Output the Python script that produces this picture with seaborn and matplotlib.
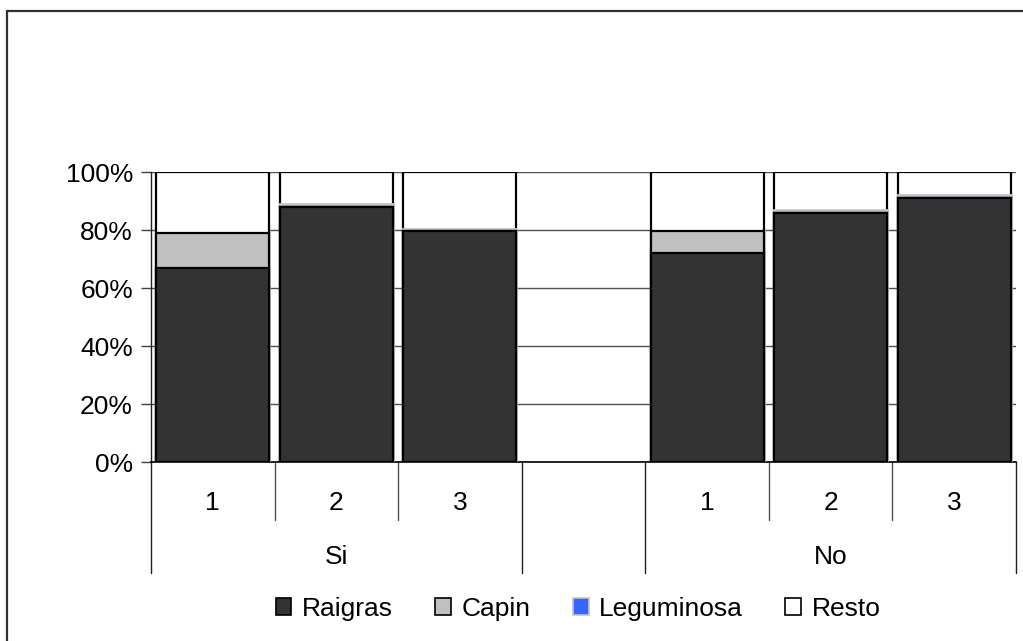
import matplotlib
matplotlib.use("Agg")
import matplotlib.pyplot as plt
import matplotlib.transforms as mtransforms
from matplotlib.patches import Patch
from matplotlib.lines import Line2D
import numpy as np
import pandas as pd
import seaborn as sns

# Composition of the pasture (%) by treatment and cut
groups = ["Si", "Si", "Si", "No", "No", "No"]
cuts = ["1", "2", "3", "1", "2", "3"]
raigras = [67.0, 88.0, 79.5, 72.0, 86.0, 91.0]
capin = [12.0, 0.0, 0.0, 7.5, 0.0, 0.0]
leguminosa = [0.0, 0.8, 0.8, 0.0, 1.0, 1.2]
resto = [21.0, 11.2, 19.7, 20.5, 13.0, 7.8]

series_names = ["Raigras", "Capin", "Leguminosa", "Resto"]
series_colors = ["#333333", "#C0C0C0", "#3366FF", "#FFFFFF"]
series_edges = ["#000000", "#000000", "#C4C4C4", "#000000"]

sns.set_theme(style="white")
plt.rcParams["font.family"] = ["Liberation Sans", "DejaVu Sans"]
plt.rcParams["text.color"] = "black"
plt.rcParams["ytick.color"] = "black"
plt.rcParams["xtick.color"] = "black"

keys = [f"{g} {c}" for g, c in zip(groups, cuts)]
order = keys[:3] + [""] + keys[3:]

df = pd.DataFrame({"key": keys, "Raigras": raigras, "Capin": capin,
                   "Leguminosa": leguminosa, "Resto": resto})
cum = df[series_names].cumsum(axis=1)

fig = plt.figure(figsize=(10.23, 6.41), dpi=100)
W, H = 1023, 641
ax = fig.add_axes([151 / W, 1 - 462 / H, (1016 - 151) / W, (462 - 172) / H])

# Stacked bars: draw cumulative totals from the top layer down
for i in reversed(range(len(series_names))):
    name = series_names[i]
    lw = 2.0 if name == "Leguminosa" else 1.6
    sns.barplot(x=df["key"], y=cum[name], order=order, ax=ax,
                color=series_colors[i], edgecolor=series_edges[i],
                linewidth=lw, width=0.915, saturation=1,
                errorbar=None, zorder=3)

ax.set_xlim(-0.5, len(order) - 0.5)
ax.set_ylim(0, 100)
ax.set_yticks(np.arange(0, 101, 20))
ax.set_yticklabels([f"{v}%" for v in range(0, 101, 20)], fontsize=19,
                   color="black")
ax.set_xticks([])
ax.set_xlabel("")
ax.set_ylabel("")
ax.yaxis.grid(True, color="#505050", linewidth=1.0, zorder=0)
ax.set_axisbelow(True)
ax.tick_params(axis="y", which="both", direction="out", length=7, width=1,
               color="#404040", pad=6, left=True)
for side in ["top", "right"]:
    ax.spines[side].set_visible(False)
ax.spines["left"].set_color("#202020")
ax.spines["left"].set_linewidth(1.0)
ax.spines["bottom"].set_color("#000000")
ax.spines["bottom"].set_linewidth(1.2)

# Two-level category axis
trans = mtransforms.blended_transform_factory(ax.transData, ax.transAxes)
short_y = -58 / 290
long_y = -111 / 290
n = len(order)
for b in np.arange(-0.5, n, 1.0):
    long = b in (-0.5, 2.5, 3.5, n - 0.5)
    ax.plot([b, b], [0, long_y if long else short_y], transform=trans,
            color="#202020" if long else "#505050", lw=1.0, clip_on=False)
for pos, lab in enumerate(order):
    if lab:
        ax.text(pos, -41 / 290, lab.split(" ")[1], transform=trans,
                ha="center", va="center", fontsize=19, color="black")
ax.text(1, -95 / 290, "Si", transform=trans, ha="center", va="center",
        fontsize=19, color="black")
ax.text(5, -95 / 290, "No", transform=trans, ha="center", va="center",
        fontsize=19, color="black")

# Legend
handles = [Patch(facecolor=c, edgecolor=e, linewidth=1.2)
           for c, e in zip(series_colors, series_edges)]
fig.legend(handles, series_names, loc="center", ncol=4, frameon=False,
           bbox_to_anchor=(578 / W, 1 - 609 / H), fontsize=19,
           handlelength=0.6, handleheight=0.6, handletextpad=0.4,
           columnspacing=1.6, labelcolor="black")

# Chart area border: top and left edges only
x0, y0 = 7 / W, 1 - 11 / H
fig.add_artist(Line2D([x0, 1.2], [y0, y0], transform=fig.transFigure,
                      color="#303030", linewidth=1.6))
fig.add_artist(Line2D([x0, x0], [y0, -0.2], transform=fig.transFigure,
                      color="#303030", linewidth=1.6))

fig.savefig("out.png", dpi=100)
